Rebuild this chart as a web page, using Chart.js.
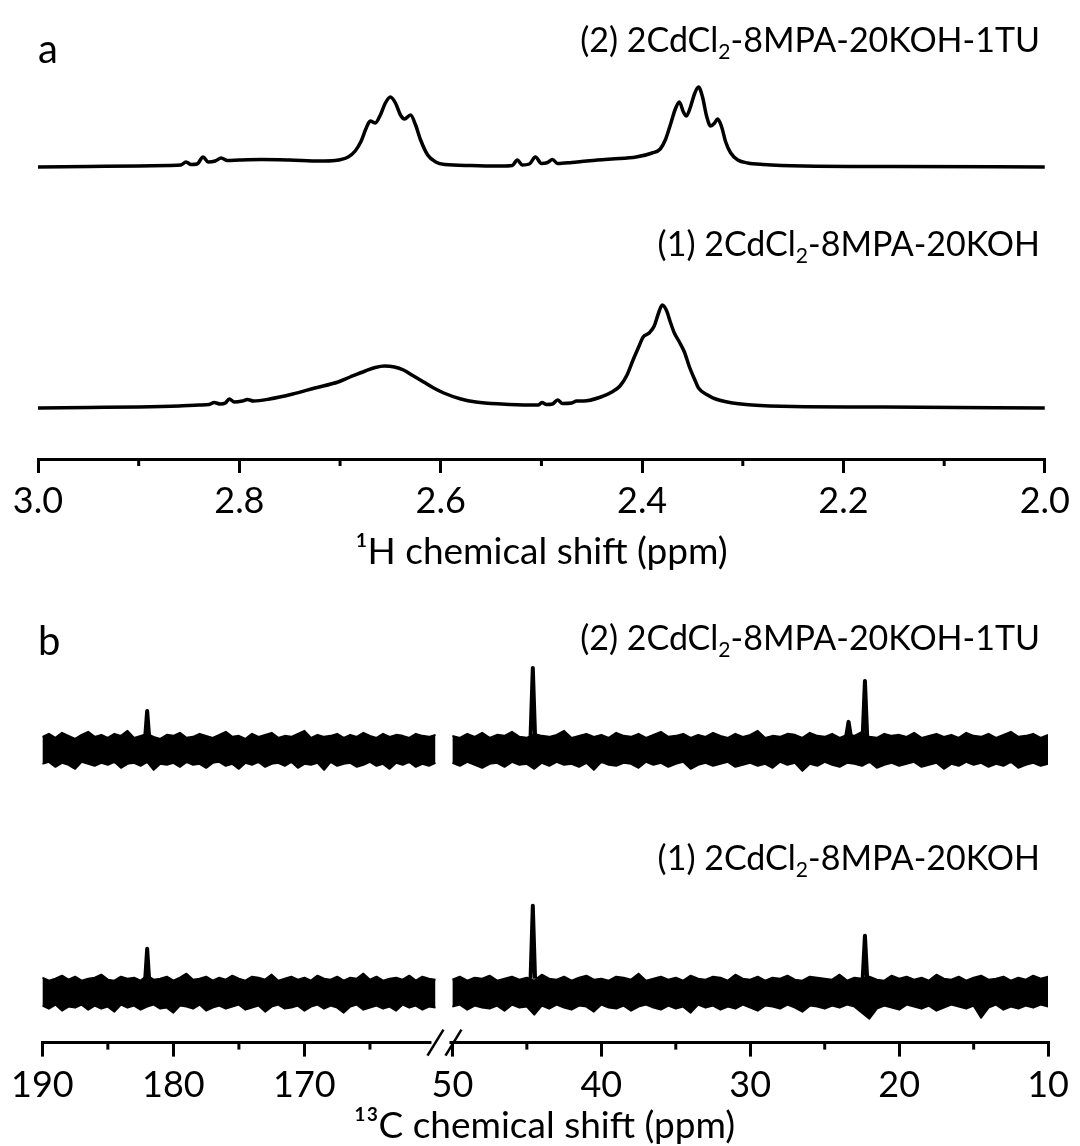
<!DOCTYPE html>
<html>
<head>
<meta charset="utf-8">
<script src="https://cdn.jsdelivr.net/npm/chart.js@4.4.1/dist/chart.umd.min.js"></script>
<style>
  body { margin: 0; background: #fff; }
  #wrap { position: relative; width: 1080px; height: 1146px; overflow: hidden; font-family: Lato, sans-serif; color: #000; }
  canvas { position: absolute; left: 0; }
  .lbl { position: absolute; right: 40px; font-size: 34px; line-height: 1; white-space: nowrap; }
  .lbl .sub { font-size: 0.62em; position: relative; top: 0.32em; }
  .panel { position: absolute; left: 38px; font-size: 40px; line-height: 1; }
</style>
</head>
<body>
<div id="wrap">
  <canvas id="chartA" width="1080" height="571" style="top:0"></canvas>
  <canvas id="chartB" width="1080" height="571" style="top:575px"></canvas>
  <div class="panel" style="top:28px">a</div>
  <div class="lbl" style="top:22px">(2) 2CdCl<span class="sub">2</span>-8MPA-20KOH-1TU</div>
  <div class="lbl" style="top:226px">(1) 2CdCl<span class="sub">2</span>-8MPA-20KOH</div>
  <div class="panel" style="top:620px">b</div>
  <div class="lbl" style="top:620px">(2) 2CdCl<span class="sub">2</span>-8MPA-20KOH-1TU</div>
  <div class="lbl" style="top:840px">(1) 2CdCl<span class="sub">2</span>-8MPA-20KOH</div>
</div>
<script>
// ---- panel a: 1H spectra (ppm, intensity above baseline) ----
const h1ShiftTop = [3.000, 2.950, 2.900, 2.870, 2.858, 2.853, 2.848, 2.842, 2.836, 2.831, 2.824, 2.818, 2.812,
  2.800, 2.778, 2.750, 2.720, 2.705, 2.692, 2.685, 2.679, 2.674, 2.670, 2.665, 2.660, 2.655, 2.650, 2.645, 2.640,
  2.636, 2.630, 2.625, 2.620, 2.613, 2.605, 2.596, 2.570, 2.540, 2.529, 2.524, 2.519, 2.512, 2.506, 2.500, 2.494,
  2.489, 2.484, 2.470, 2.455, 2.430, 2.406, 2.390, 2.382, 2.377, 2.372, 2.367, 2.363, 2.359, 2.356, 2.352, 2.348,
  2.344, 2.340, 2.336, 2.332, 2.328, 2.325, 2.321, 2.317, 2.312, 2.305, 2.295, 2.280, 2.240, 2.150, 2.000];
const h1IntensityTop = [0, 0.5, 1, 1.5, 2, 5, 2.5, 3, 10, 5, 6, 9, 6.5,
  7, 7.5, 7, 6, 6.5, 10, 16, 26, 39, 46, 44, 52, 64, 70, 64, 52,
  48, 52, 42, 27, 12, 5, 2.5, 1.5, 1, 1.5, 7, 2, 3, 10, 3.5, 4.5,
  7.5, 3.5, 4.5, 6, 8, 10, 14, 18, 27, 42, 58, 65, 55, 51, 60, 73,
  80, 70, 51, 41, 44, 48, 40, 25, 14, 7, 4, 2.5, 1, 0.5, 0];

const h1ShiftBottom = [3.000, 2.950, 2.900, 2.860, 2.840, 2.830, 2.825, 2.819, 2.814, 2.810, 2.805, 2.797, 2.792,
  2.786, 2.770, 2.747, 2.725, 2.702, 2.690, 2.675, 2.665, 2.656, 2.646, 2.637, 2.627, 2.617, 2.607, 2.597, 2.580,
  2.565, 2.540, 2.512, 2.503, 2.4995, 2.495, 2.489, 2.484, 2.479, 2.470, 2.465, 2.458, 2.441, 2.430, 2.422, 2.415,
  2.409, 2.403, 2.399, 2.393, 2.388, 2.384, 2.380, 2.376, 2.372, 2.368, 2.363, 2.358, 2.353, 2.348, 2.344, 2.335,
  2.327, 2.310, 2.291, 2.250, 2.160, 2.000];
const h1IntensityBottom = [0, 0.5, 1, 2, 3, 3.5, 5.5, 4, 5, 9, 6, 7, 8.5,
  7, 9, 14, 20, 26, 31, 37, 40.5, 42, 41, 38, 32, 26, 20, 15, 9,
  6, 4, 3, 3, 5.5, 3.5, 4, 8, 4.5, 5, 7, 7, 11, 16, 22, 33,
  48, 62, 71, 75, 82, 94, 103, 98, 86, 75, 66, 56, 41, 29, 20, 13,
  9, 5, 3, 1.5, 1, 0];

const h1MajorTicks = [3.0, 2.8, 2.6, 2.4, 2.2, 2.0];
const h1MinorTicks = [2.9, 2.7, 2.5, 2.3, 2.1];

// ---- panel b: 13C spectra on a broken axis (noise band edges + peaks) ----
const c13ShiftLeft = [190, 189.5, 189, 188.5, 188, 187.5, 187, 186.5, 186, 185.5, 185, 184.5, 184, 183.5, 183, 182.5,
  182, 181.5, 181, 180.5, 180, 179.5, 179, 178.5, 178, 177.5, 177, 176.5, 176, 175.5, 175, 174.5, 174, 173.5,
  173, 172.5, 172, 171.5, 171, 170.5, 170, 169.5, 169, 168.5, 168, 167.5, 167, 166.5, 166, 165.5, 165, 164.5,
  164, 163.5, 163, 162.5, 162, 161.5, 161, 160.5, 160];
const c13ShiftRight = [50, 49.5, 49, 48.5, 48, 47.5, 47, 46.5, 46, 45.5, 45, 44.5, 44, 43.5, 43, 42.5, 42, 41.5,
  41, 40.5, 40, 39.5, 39, 38.5, 38, 37.5, 37, 36.5, 36, 35.5, 35, 34.5, 34, 33.5, 33, 32.5, 32, 31.5, 31, 30.5,
  30, 29.5, 29, 28.5, 28, 27.5, 27, 26.5, 26, 25.5, 25, 24.5, 24, 23.5, 23, 22.5, 22, 21.5, 21, 20.5, 20, 19.5,
  19, 18.5, 18, 17.5, 17, 16.5, 16, 15.5, 15, 14.5, 14, 13.5, 13, 12.5, 12, 11.5, 11, 10.5, 10];

// spectrum (2) 2CdCl2-8MPA-20KOH-1TU
const c13UpperLeft2 = [13, 16, 12, 17, 14, 11, 15, 18, 13, 15, 12, 16, 14, 19, 12, 14, 16, 13, 11, 15,
  14, 17, 12, 13, 16, 14, 12, 15, 18, 13, 14, 11, 16, 13, 15, 17, 12, 14, 13, 16,
  19, 12, 15, 13, 14, 16, 12, 15, 13, 17, 14, 12, 16, 13, 15, 14, 12, 16, 14, 13, 15];
const c13LowerLeft2 = [-14, -12, -17, -13, -15, -19, -12, -14, -16, -13, -15, -12, -18, -14, -13, -16, -12, -20, -14, -15,
  -13, -17, -12, -15, -14, -18, -13, -12, -16, -14, -19, -13, -15, -12, -17, -14, -13, -16, -12, -18,
  -14, -15, -13, -20, -12, -16, -14, -13, -17, -15, -12, -16, -14, -19, -13, -15, -12, -17, -14, -16, -13];
const c13UpperRight2 = [14, 12, 16, 13, 17, 12, 15, 14, 18, 13, 12, 16, 14, 13, 15, 19, 12, 14, 16, 13,
  15, 12, 17, 14, 13, 16, 12, 15, 18, 13, 14, 16, 12, 15, 13, 17, 14, 12, 16, 13,
  15, 19, 12, 14, 13, 16, 15, 12, 17, 14, 13, 16, 12, 15, 14, 18, 13, 12, 16, 14,
  15, 13, 17, 12, 14, 16, 13, 15, 12, 17, 14, 13, 16, 12, 15, 18, 13, 14, 16, 12, 15];
const c13LowerRight2 = [-13, -16, -12, -15, -18, -14, -13, -17, -12, -15, -14, -19, -13, -16, -12, -15, -14, -17, -13, -20,
  -12, -15, -16, -13, -14, -18, -12, -15, -13, -17, -14, -12, -19, -15, -13, -16, -14, -12, -17, -15,
  -13, -16, -14, -18, -12, -15, -13, -21, -14, -16, -12, -15, -17, -13, -14, -16, -12, -18, -15, -13,
  -16, -14, -12, -17, -15, -13, -19, -14, -16, -12, -15, -13, -17, -14, -16, -12, -18, -15, -13, -16, -14];

// spectrum (1) 2CdCl2-8MPA-20KOH
const c13UpperLeft1 = [15, 12, 14, 17, 13, 16, 12, 14, 15, 18, 13, 12, 16, 14, 15, 12, 17, 13, 14, 16,
  12, 15, 19, 13, 14, 16, 12, 15, 13, 17, 14, 12, 16, 15, 13, 18, 12, 14, 16, 13,
  15, 12, 17, 14, 13, 16, 12, 15, 14, 19, 13, 16, 12, 14, 15, 13, 17, 12, 16, 14, 13];
const c13LowerLeft1 = [-13, -16, -12, -18, -14, -15, -12, -17, -13, -16, -14, -19, -12, -15, -13, -17, -14, -12, -16, -15,
  -20, -13, -14, -16, -12, -18, -15, -13, -16, -14, -12, -17, -15, -13, -19, -14, -12, -16, -15, -13,
  -18, -14, -12, -16, -13, -15, -20, -14, -12, -17, -15, -13, -16, -14, -18, -12, -15, -13, -17, -14, -15];
const c13UpperRight1 = [13, 16, 12, 15, 14, 17, 12, 14, 16, 13, 15, 12, 18, 14, 13, 16, 12, 15, 17, 13,
  14, 12, 16, 15, 13, 19, 12, 14, 16, 13, 15, 12, 17, 14, 13, 16, 15, 12, 18, 14,
  13, 16, 12, 15, 14, 17, 13, 12, 16, 15, 14, 13, 18, 12, 15, 14, 16, 13, 12, 17,
  14, 16, 13, 15, 12, 18, 14, 13, 16, 12, 15, 17, 13, 14, 16, 12, 15, 13, 17, 14, 16];
const c13LowerRight1 = [-14, -12, -17, -13, -15, -16, -13, -18, -12, -15, -14, -22, -13, -16, -12, -15, -17, -13, -14, -19,
  -12, -15, -16, -13, -18, -14, -12, -15, -17, -13, -16, -14, -20, -12, -15, -13, -17, -14, -16, -12,
  -15, -18, -13, -14, -16, -12, -15, -19, -13, -14, -16, -13, -15, -12, -14, -20, -26, -16, -13, -15,
  -17, -12, -14, -16, -13, -18, -15, -12, -14, -16, -13, -25, -15, -12, -17, -14, -16, -13, -15, -12, -14];

const c13PeaksLeft2 = [[[182.15, 13], [182.0, 39], [181.85, 13]]];
const c13PeaksRight2 = [
  [[44.75, 14], [44.6, 82], [44.45, 14]],
  [[23.55, 14], [23.4, 28], [23.25, 14]],
  [[22.45, 14], [22.3, 69], [22.15, 14]]
];
const c13PeaksLeft1 = [[[182.15, 13], [182.0, 44], [181.85, 13]]];
const c13PeaksRight1 = [
  [[44.75, 14], [44.6, 87], [44.45, 14]],
  [[22.45, 14], [22.3, 57], [22.15, 14]]
];

const c13MajorLeft = [190, 180, 170];
const c13MinorLeft = [185, 175, 165];
const c13MajorRight = [50, 40, 30, 20, 10];
const c13MinorRight = [45, 35, 25, 15];

const FONT = 'Lato';
const minorTicks = { x: h1MinorTicks, xL: c13MinorLeft, xR: c13MinorRight };

const minorTickPlugin = {
  id: 'minorTicks',
  afterDraw(chart) {
    const ctx = chart.ctx;
    ctx.save();
    ctx.strokeStyle = '#000';
    ctx.lineWidth = 3;
    Object.keys(minorTicks).forEach(id => {
      const scale = chart.scales[id];
      if (!scale) return;
      minorTicks[id].forEach(v => {
        const px = scale.getPixelForValue(v);
        ctx.beginPath();
        ctx.moveTo(px, scale.top);
        ctx.lineTo(px, scale.top + 7);
        ctx.stroke();
      });
    });
    ctx.restore();
  }
};

// white gap in the axis line with two slashes where the ppm range is cut
const axisBreakPlugin = {
  id: 'axisBreak',
  afterDraw(chart) {
    const xL = chart.scales.xL;
    if (!xL) return;
    const ctx = chart.ctx;
    const bx = xL.right;
    const y = xL.top;
    ctx.save();
    ctx.fillStyle = '#fff';
    ctx.fillRect(bx - 9, y - 4, 18, 9);
    ctx.strokeStyle = '#000';
    ctx.lineWidth = 2.5;
    [-5, 13].forEach(dx => {
      ctx.beginPath();
      ctx.moveTo(bx + dx - 8, y + 13);
      ctx.lineTo(bx + dx + 8, y - 13);
      ctx.stroke();
    });
    ctx.restore();
  }
};

const toPoints = (xs, ys) => xs.map((x, i) => ({ x, y: ys[i] }));
const pairPoints = (pairs) => pairs.map(p => ({ x: p[0], y: p[1] }));

const tickFont = { family: FONT, size: 36, lineHeight: 1 };

function xAxis(opts) {
  return Object.assign({
    type: 'linear',
    reverse: true,
    grid: { drawOnChartArea: false, drawTicks: true, tickLength: 14, color: '#000', lineWidth: 3 },
    border: { display: true, color: '#000', width: 3 }
  }, opts);
}

// ---- chart a ----
new Chart(document.getElementById('chartA'), {
  type: 'line',
  data: {
    datasets: [
      { data: toPoints(h1ShiftTop, h1IntensityTop), yAxisID: 'yTop' },
      { data: toPoints(h1ShiftBottom, h1IntensityBottom), yAxisID: 'yBottom' }
    ]
  },
  options: {
    responsive: false,
    animation: false,
    layout: { padding: { left: 38, right: 29, top: 0, bottom: 0 } },
    plugins: { legend: { display: false }, tooltip: { enabled: false } },
    elements: {
      point: { radius: 0 },
      line: { borderColor: '#000', borderWidth: 3.5, cubicInterpolationMode: 'monotone', borderJoinStyle: 'round' }
    },
    scales: {
      x: xAxis({
        min: 2.0, max: 3.0,
        afterBuildTicks: axis => { axis.ticks = h1MajorTicks.map(v => ({ value: v })); },
        ticks: { color: '#000', font: tickFont, padding: 10, maxRotation: 0, autoSkip: false,
          callback: v => Number(v).toFixed(1) },
        title: {
          display: true, text: '¹H chemical shift (ppm)', color: '#000',
          font: { family: FONT, size: 37, lineHeight: 1 }, padding: { top: 5, bottom: 0 }
        }
      }),
      yTop: { display: false, min: -292, max: 167 },
      yBottom: { display: false, min: -51, max: 408 }
    }
  },
  plugins: [minorTickPlugin]
});

// ---- chart b ----
function bandDatasets(upperL, lowerL, upperR, lowerR, peaksL, peaksR, yID) {
  const edge = { borderColor: '#000', borderWidth: 2, yAxisID: yID, tension: 0 };
  const sets = [
    Object.assign({ data: toPoints(c13ShiftLeft, upperL), xAxisID: 'xL', fill: false }, edge),
    Object.assign({ data: toPoints(c13ShiftLeft, lowerL), xAxisID: 'xL', fill: '-1', backgroundColor: '#000' }, edge),
    Object.assign({ data: toPoints(c13ShiftRight, upperR), xAxisID: 'xR', fill: false }, edge),
    Object.assign({ data: toPoints(c13ShiftRight, lowerR), xAxisID: 'xR', fill: '-1', backgroundColor: '#000' }, edge)
  ];
  peaksL.forEach(pk => sets.push(Object.assign({ data: pairPoints(pk), xAxisID: 'xL', fill: false }, edge, { borderWidth: 4 })));
  peaksR.forEach(pk => sets.push(Object.assign({ data: pairPoints(pk), xAxisID: 'xR', fill: false }, edge, { borderWidth: 4 })));
  return sets;
}

new Chart(document.getElementById('chartB'), {
  type: 'line',
  data: {
    datasets: [
      ...bandDatasets(c13UpperLeft2, c13LowerLeft2, c13UpperRight2, c13LowerRight2, c13PeaksLeft2, c13PeaksRight2, 'y2'),
      ...bandDatasets(c13UpperLeft1, c13LowerLeft1, c13UpperRight1, c13LowerRight1, c13PeaksLeft1, c13PeaksRight1, 'y1')
    ]
  },
  options: {
    responsive: false,
    animation: false,
    layout: { padding: { left: 38, right: 29, top: 0, bottom: 12.6 } },
    plugins: {
      legend: { display: false },
      tooltip: { enabled: false },
      title: {
        display: true, position: 'bottom', text: '¹³C chemical shift (ppm)', color: '#000',
        font: { family: FONT, size: 37, lineHeight: 0.4, weight: 'normal' }, padding: { top: 4, bottom: 0 }
      }
    },
    elements: {
      point: { radius: 0 },
      line: { borderJoinStyle: 'round' }
    },
    scales: {
      xL: xAxis({
        min: 159.62, max: 190, stack: 'c13', stackWeight: 401,
        afterBuildTicks: axis => { axis.ticks = c13MajorLeft.map(v => ({ value: v })); },
        ticks: { color: '#000', font: tickFont, padding: 11, maxRotation: 0, autoSkip: false }
      }),
      xR: xAxis({
        min: 10, max: 50.8, stack: 'c13', stackWeight: 612,
        afterBuildTicks: axis => { axis.ticks = c13MajorRight.map(v => ({ value: v })); },
        ticks: { color: '#000', font: tickFont, padding: 11, maxRotation: 0, autoSkip: false }
      }),
      y2: { display: false, min: -293, max: 175 },
      y1: { display: false, min: -50, max: 418 }
    }
  },
  plugins: [minorTickPlugin, axisBreakPlugin]
});
</script>
</body>
</html>
